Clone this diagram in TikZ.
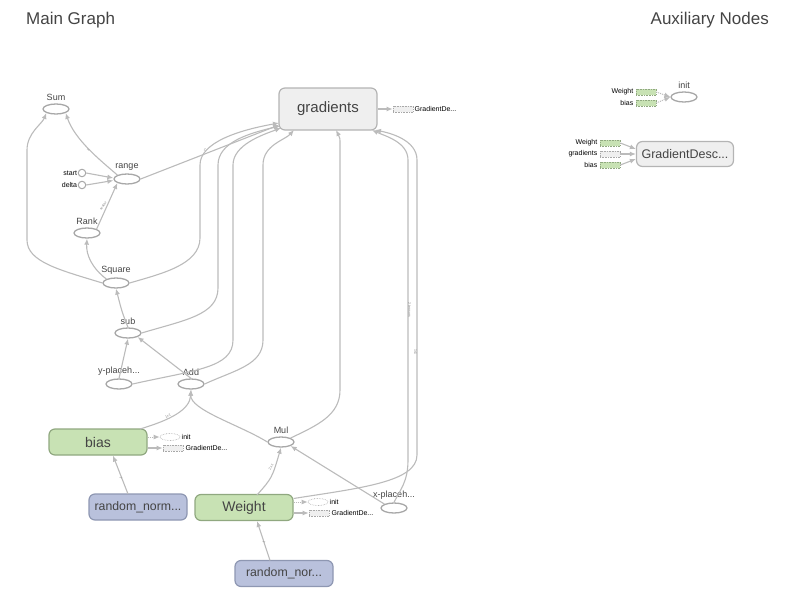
\documentclass[tikz,border=0pt]{standalone}
\usepackage{fontspec}
\setmainfont{Liberation Sans}
\usetikzlibrary{shapes.geometric,arrows.meta,calc}
\definecolor{edgec}{HTML}{BBBBBB}
\definecolor{opc}{HTML}{A8A8A8}
\definecolor{txt}{HTML}{444444}
\definecolor{gfill}{HTML}{EFEFEF}
\definecolor{gdraw}{HTML}{B4B4B4}
\definecolor{vfill}{HTML}{C8E2B4}
\definecolor{vdraw}{HTML}{90A880}
\definecolor{rfill}{HTML}{B9C1DC}
\definecolor{rdraw}{HTML}{8E97B2}
\newcommand\myfs[1]{\fontsize{#1}{#1}\selectfont}
\tikzset{
  op/.style={ellipse, draw=opc, fill=white, line width=1.3pt, minimum width=26pt, minimum height=10pt, inner sep=0pt},
  oplab/.style={font=\myfs{9}, text=txt, inner sep=0.5pt},
  bigbox/.style={rectangle, rounded corners=6pt, line width=1.2pt, minimum width=98pt, minimum height=26pt, font=\myfs{14}, text=txt},
  varbox/.style={bigbox, fill=vfill, draw=vdraw},
  rndbox/.style={bigbox, fill=rfill, draw=rdraw, font=\myfs{12.3}},
  sbox/.style={rectangle, draw=opc, densely dotted, line width=0.6pt, minimum width=20pt, minimum height=6pt, inner sep=0pt},
  sell/.style={ellipse, draw=opc, densely dotted, line width=0.6pt, minimum width=20pt, minimum height=7pt, inner sep=0pt, fill=white},
  small/.style={font=\myfs{7}, text=black, inner sep=0.5pt},
  edge/.style={draw=edgec, line width=1.1pt, -{Latex[length=6pt,width=5pt]}},
  cedge/.style={draw=edgec, line width=1pt, densely dotted, -{Latex[length=6pt,width=5pt]}},
  tiny/.style={font=\myfs{3.5}, text=gray, inner sep=0pt},
  pin/.style={circle, draw=opc, fill=white, line width=1pt, minimum size=7.5pt, inner sep=0pt}
}
\begin{document}
\begin{tikzpicture}[x=1pt,y=-1pt]
\useasboundingbox (0,0) rectangle (795,594);
% titles
\node[font=\myfs{17}, text=txt, anchor=west, inner sep=0] (title) at (26,20) {Main Graph};
\node[font=\myfs{17}, text=txt, anchor=east, inner sep=0] (auxt) at (769,20) {Auxiliary Nodes};

% main nodes
\node[bigbox, fill=gfill, draw=gdraw, minimum height=42pt, font=\myfs{15}] (grad) at (328,109) {gradients};
\node[sbox, fill=gfill] (gradGD) at (403,109) {};
\node[small, anchor=west] (gradGDl) at (414,109) {GradientDe...};

\node[op, label={[oplab, label distance=2pt]above:Sum}] (Sum) at (56,109) {};
\node[op, label={[oplab, label distance=2pt]above:range}] (range) at (127,179) {};
\node[pin, label={[small]left:start}] (start) at (82,173) {};
\node[pin, label={[small]left:delta}] (delta) at (82,185) {};
\node[op, label={[oplab, label distance=2pt]above:Rank}] (Rank) at (87,233) {};
\node[op, label={[oplab, label distance=2pt]above:Square}] (Square) at (116,283) {};
\node[op, label={[oplab, label distance=2pt]above:sub}] (sub) at (128,333) {};
\node[op, label={[oplab, label distance=2pt]above:y-placeh...}] (yph) at (119,384) {};
\node[op, label={[oplab, label distance=2pt]above:Add}] (Add) at (191,384) {};
\node[op, label={[oplab, label distance=2pt]above:Mul}] (Mul) at (281,442) {};
\node[op, label={[oplab, label distance=2pt]above:x-placeh...}] (xph) at (394,508) {};

\node[varbox] (bias) at (98,442) {bias};
\node[sell] (biasinit) at (170,437) {};
\node[small, anchor=west] (biasinitl) at (181,437) {init};
\node[sbox, fill=gfill] (biasGD) at (173,448) {};
\node[small, anchor=west] (biasGDl) at (185,448) {GradientDe...};

\node[rndbox] (rn1) at (138,507) {random\_norm...};
\node[varbox] (Weight) at (244,507.5) {Weight};
\node[sell] (winit) at (318,502) {};
\node[small, anchor=west] (winitl) at (329,502) {init};
\node[sbox, fill=gfill] (wGD) at (319,513) {};
\node[small, anchor=west] (wGDl) at (331,513) {GradientDe...};
\node[rndbox] (rn2) at (284,573.5) {random\_nor...};

% auxiliary nodes
\node[op, minimum width=26pt, label={[oplab, label distance=2pt]above:init}] (ainit) at (684,97) {};
\node[sbox, fill=vfill, draw=vdraw] (aW1) at (646,92) {};
\node[small, anchor=east] (aW1l) at (634,92) {Weight};
\node[sbox, fill=vfill, draw=vdraw] (aB1) at (646,103) {};
\node[small, anchor=east] (aB1l) at (634,103) {bias};
\node[bigbox, fill=gfill, draw=gdraw, minimum width=97pt, minimum height=25pt, font=\myfs{12.5}] (aGD) at (685,154) {GradientDesc...};
\node[sbox, fill=vfill, draw=vdraw] (aW2) at (610,143) {};
\node[small, anchor=east] (aW2l) at (598,143) {Weight};
\node[sbox, fill=gfill] (aG2) at (610,154) {};
\node[small, anchor=east] (aG2l) at (598,154) {gradients};
\node[sbox, fill=vfill, draw=vdraw] (aB2) at (610,165) {};
\node[small, anchor=east] (aB2l) at (598,165) {bias};

% aux edges
\draw[cedge] (aW1.east) -- (ainit.west);
\draw[cedge] (aB1.east) -- (ainit.west);
\draw[edge] (aW2.east) -- ($(aGD.west)+(0,-5)$);
\draw[edge] (aG2.east) -- (aGD.west);
\draw[edge] (aB2.east) -- ($(aGD.west)+(0,5)$);

% main edges
\draw[edge] (grad.east) -- (gradGD.west);
\draw[cedge] ($(bias.east)+(0,-5)$) -- (biasinit.west);
\draw[edge] ($(bias.east)+(0,6)$) -- (biasGD.west);
\draw[cedge] ($(Weight.east)+(0,-5.5)$) -- (winit.west);
\draw[edge] ($(Weight.east)+(0,5.5)$) -- (wGD.west);

\draw[edge] (start.east) -- ($(range.west)+(0,-1)$);
\draw[edge] (delta.east) -- ($(range.west)+(0,1.5)$);
\draw[edge] (Square.west) .. controls (60,270) and (27,262) .. (27,240) -- (27,150) .. controls (27,133) and (42,124) .. (Sum.south west);
\draw[edge] (range.north west) .. controls (100,160) and (75,140) .. (Sum.south east);
\node[tiny, rotate=50] (l1) at (88,150) {1};
\draw[edge] (Rank.north east) -- (range.south west);
\node[tiny, rotate=55] (l2) at (103,206) {scalar};
\draw[edge] (Square.north west) .. controls (92,268) and (86,255) .. (Rank.south);
\draw[edge] (range.east) -- (279,125);
\node[tiny, rotate=-20] (l3) at (205,150) {1};
\draw[edge] (Square.east) .. controls (160,274) and (200,265) .. (200,238) -- (200,165) .. controls (200,142) and (240,130) .. (279,123);
\draw[edge] (sub.east) .. controls (185,320) and (218,315) .. (218,288) -- (218,165) .. controls (218,142) and (250,133) .. (280,126);
\draw[edge] (yph.east) .. controls (195,370) and (233,368) .. (233,340) -- (233,165) .. controls (233,145) and (262,135) .. (281,128);
\draw[edge] (Add.east) .. controls (235,370) and (263,365) .. (263,340) -- (263,165) .. controls (263,145) and (285,140) .. (294,130);
\draw[edge] (Mul.north east) .. controls (318,425) and (340,415) .. (340,390) -- (340,145) .. controls (340,138) .. (336,130);
\draw[edge] (xph.north) .. controls (400,490) and (408,482) .. (408,460) -- (408,160) .. controls (408,142) and (385,136) .. (372,130);
\draw[edge] ($(Weight.east)+(0,-9)$) .. controls (360,488) and (417,482) .. (417,455) -- (417,160) .. controls (417,140) and (390,133) .. (375,130);
\node[tiny, rotate=-90] (l4) at (409.5,310) {2 tensors};
\node[tiny, rotate=-90] (l5) at (415.5,352) {1x1};

\draw[edge] (sub.north) .. controls (122,312) .. (Square.south);
\draw[edge] (yph.north) -- (sub.south);
\draw[edge] (Add.north) -- (sub.south east);
\draw[edge] (140,429) .. controls (170,420) and (190,410) .. (Add.south);
\node[tiny, rotate=25] (l6) at (168,416) {1x1};
\draw[edge] (Mul.west) .. controls (240,425) and (190,410) .. (Add.south);
\draw[edge] (257,495) .. controls (272,478) .. (Mul.south);
\node[tiny, rotate=55] (l7) at (271,467) {2x1};
\draw[edge] (xph.north west) -- (Mul.south east);
\draw[edge] (128,494) -- ($(bias.south)+(15,0)$);
\node[tiny, rotate=65] (l8) at (121,478) {1};
\draw[edge] (270,560.5) -- (257,521);
\node[tiny, rotate=65] (l9) at (264,542) {1};
\end{tikzpicture}
\end{document}
